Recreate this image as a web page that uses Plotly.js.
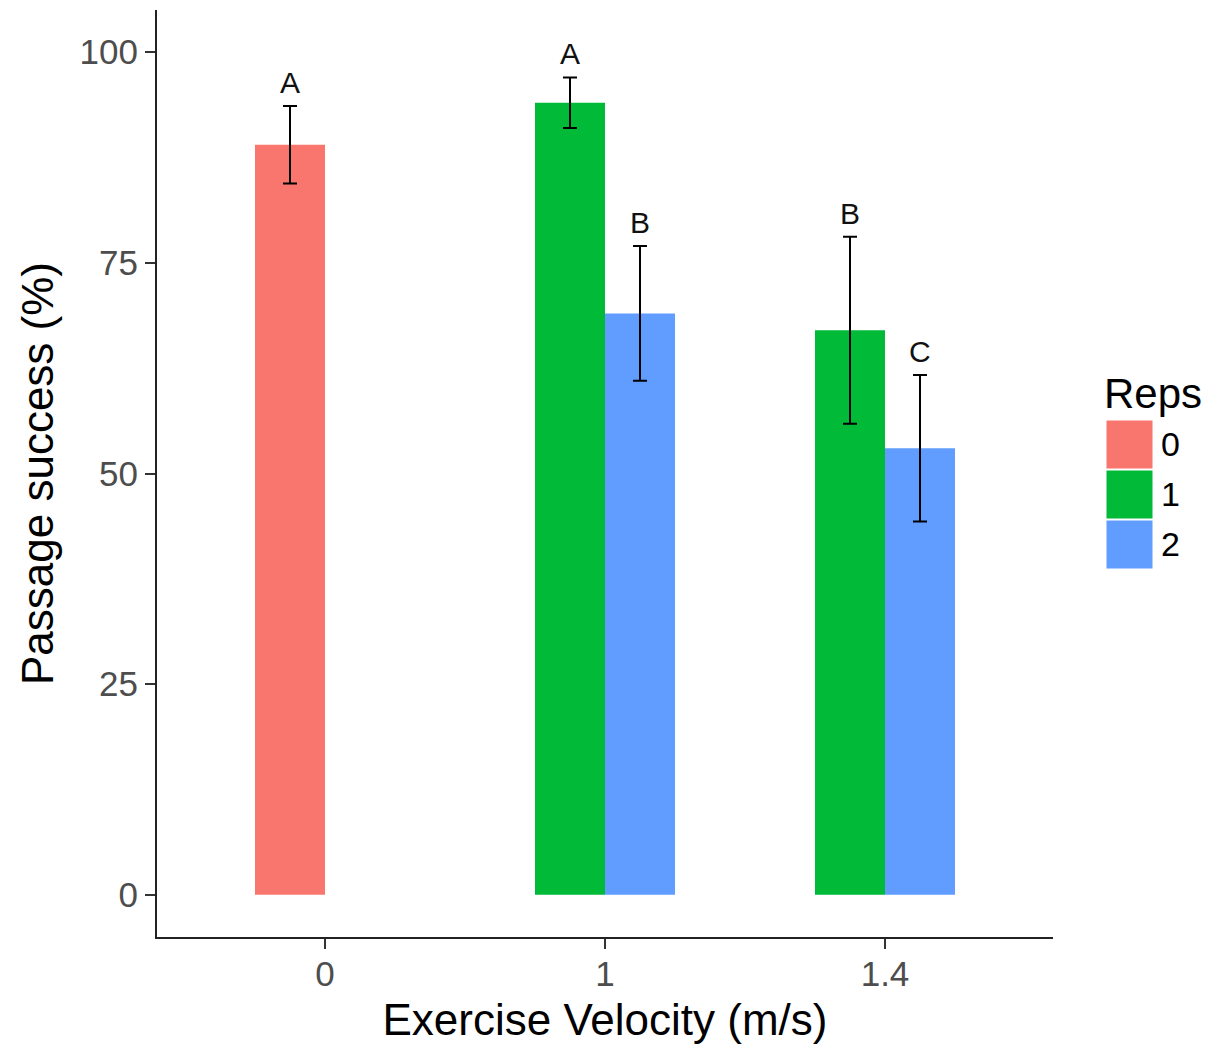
<!DOCTYPE html>
<html>
<head>
<meta charset="utf-8">
<script src="https://cdn.plot.ly/plotly-3.0.1.min.js"></script>
<style>html,body{margin:0;padding:0;background:#fff;}#chart{width:1217px;height:1049px;}</style>
</head>
<body>
<div id="chart"></div>
<script>
// ---- data ----
var velocities = ['0', '1', '1.4'];
var reps = ['0', '1', '2'];
var colors = ['#F8766D', '#00BA38', '#619CFF'];

var rep0X = ['0'];
var rep0Y = [89];
var rep0Err = [4.6];
var rep0Letters = ['A'];

var rep1X = ['1', '1.4'];
var rep1Y = [94, 67];
var rep1Err = [3, 11.1];
var rep1Letters = ['A', 'B'];

var rep2X = ['1', '1.4'];
var rep2Y = [69, 53];
var rep2Err = [8, 8.7];
var rep2Letters = ['B', 'C'];

var yTicks = [0, 25, 50, 75, 100];

// ---- build ----
var FONT = 'Liberation Sans, Arial, Helvetica, sans-serif';
var groups = [
  {x: rep0X, y: rep0Y, e: rep0Err, l: rep0Letters, offset: -0.25},
  {x: rep1X, y: rep1Y, e: rep1Err, l: rep1Letters, offset: -0.25},
  {x: rep2X, y: rep2Y, e: rep2Err, l: rep2Letters, offset: 0}
];
var barW = 0.25;

var traces = groups.map(function (g, i) {
  return {
    type: 'bar', x: g.x, y: g.y, name: reps[i],
    width: barW, offset: g.offset,
    marker: {color: colors[i], line: {width: 0}},
    error_y: {type: 'data', array: g.e, visible: true, color: '#000', thickness: 2, width: 7},
    showlegend: false, hoverinfo: 'x+y'
  };
});

var annotations = [];
groups.forEach(function (g) {
  g.x.forEach(function (xv, j) {
    var idx = velocities.indexOf(xv);
    annotations.push({
      x: idx + g.offset + barW / 2, y: g.y[j] + g.e[j], xref: 'x', yref: 'y',
      text: g.l[j], showarrow: false, yanchor: 'bottom', yshift: 5,
      font: {family: FONT, size: 30, color: '#111'}
    });
  });
});

// manual legend (ggplot style big keys)
var L = 157, R = 1053, T = 10, B = 937;
function px2x(p) { return (p - L) / (R - L); }
function py2y(p) { return (B - p) / (B - T); }
var shapes = [];
reps.forEach(function (r, i) {
  var top = 420 + i * 50;
  shapes.push({
    type: 'rect', xref: 'paper', yref: 'paper',
    x0: px2x(1106), x1: px2x(1153), y0: py2y(top + 49), y1: py2y(top),
    fillcolor: colors[i], line: {color: '#fff', width: 1}
  });
  annotations.push({
    xref: 'paper', yref: 'paper', x: px2x(1159), y: py2y(top + 24),
    xanchor: 'left', yanchor: 'middle', text: r, showarrow: false,
    font: {family: FONT, size: 34, color: '#000'}
  });
});
annotations.push({
  xref: 'paper', yref: 'paper', x: px2x(1102), y: py2y(393),
  xanchor: 'left', yanchor: 'middle', text: 'Reps', showarrow: false,
  font: {family: FONT, size: 42, color: '#000'}
});

var layout = {
  width: 1217, height: 1049,
  margin: {l: L, r: 1217 - R, t: T, b: 1049 - B},
  paper_bgcolor: '#fff', plot_bgcolor: '#fff',
  font: {family: FONT},
  showlegend: false,
  barmode: 'overlay',
  xaxis: {
    type: 'category', categoryorder: 'array', categoryarray: velocities,
    range: [-0.6, 2.6], showgrid: false, zeroline: false,
    showline: true, linecolor: '#222', linewidth: 2,
    ticks: 'outside', ticklen: 10, tickwidth: 2, tickcolor: '#333',
    ticklabelstandoff: -5,
    tickfont: {family: FONT, size: 35, color: '#4d4d4d'},
    title: {text: 'Exercise Velocity (m/s)', font: {family: FONT, size: 44, color: '#000'}, standoff: 12},
    automargin: false, fixedrange: true
  },
  yaxis: {
    range: [-5, 105], tickvals: yTicks, ticktext: yTicks.map(String),
    showgrid: false, zeroline: false,
    showline: true, linecolor: '#222', linewidth: 2,
    ticks: 'outside', ticklen: 10, tickwidth: 2, tickcolor: '#333',
    tickfont: {family: FONT, size: 35, color: '#4d4d4d'},
    title: {text: 'Passage success (%)', font: {family: FONT, size: 44, color: '#000'}, standoff: 12},
    automargin: false, fixedrange: true
  },
  shapes: shapes,
  annotations: annotations
};

Plotly.newPlot('chart', traces, layout, {displayModeBar: false, staticPlot: true});
</script>
</body>
</html>
